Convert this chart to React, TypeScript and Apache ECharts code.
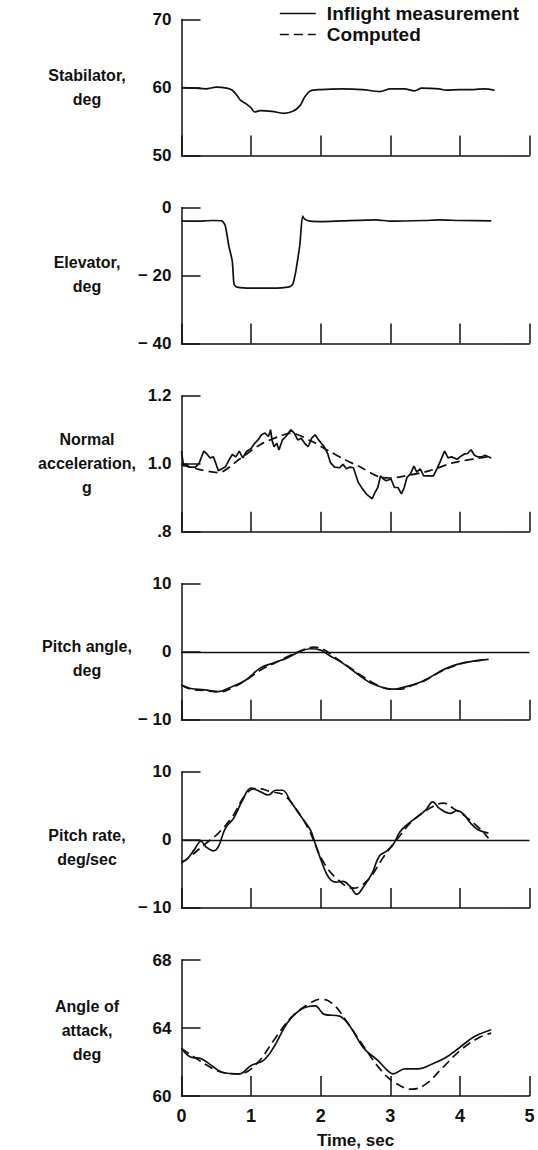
import React, { useEffect, useRef } from "react";
import * as echarts from "echarts";

// ---- data (time in s, value) ----
const stabilatorInflight = [
  [0, 60.0], [0.2, 59.9], [0.35, 59.8], [0.5, 60.05], [0.65, 59.9], [0.73, 59.6], [0.8, 58.8], [0.85, 58.1],
  [0.93, 57.6], [1.0, 57.0], [1.05, 56.4], [1.13, 56.6], [1.3, 56.5], [1.47, 56.2], [1.6, 56.5], [1.7, 57.3],
  [1.77, 58.6], [1.85, 59.5], [2.0, 59.7], [2.3, 59.8], [2.6, 59.7], [2.85, 59.4], [3.0, 59.8], [3.2, 59.8],
  [3.35, 59.5], [3.45, 59.9], [3.7, 59.8], [3.8, 59.6], [4.0, 59.7], [4.2, 59.7], [4.35, 59.8], [4.5, 59.6],
];

const elevatorInflight = [
  [0, -3.9], [0.2, -4.0], [0.45, -3.8], [0.58, -3.9], [0.63, -5.4], [0.68, -11.3], [0.73, -15.8], [0.755, -22.6],
  [0.8, -23.4], [1.0, -23.7], [1.3, -23.7], [1.55, -23.3], [1.6, -22.5], [1.64, -19.0], [1.67, -15.2], [1.7, -11.0],
  [1.74, -2.5], [1.77, -3.4], [1.85, -4.0], [2.0, -4.1], [2.3, -3.9], [2.8, -3.6], [3.0, -4.0], [3.5, -3.8],
  [3.7, -3.6], [4.0, -3.8], [4.45, -3.9],
];

const accelInflight = [
  [0, 1.037], [0.03, 0.993], [0.06, 1.0], [0.11, 0.99], [0.2, 0.99], [0.25, 1.0], [0.32, 1.037], [0.36, 1.03],
  [0.41, 1.017], [0.46, 1.02], [0.53, 0.979], [0.58, 0.985], [0.63, 0.99], [0.68, 1.01], [0.73, 1.027], [0.78, 1.02],
  [0.83, 1.037], [0.88, 1.017], [0.93, 1.035], [1.0, 1.045], [1.05, 1.06], [1.1, 1.07], [1.15, 1.085], [1.2, 1.09],
  [1.25, 1.08], [1.28, 1.1], [1.3, 1.07], [1.33, 1.05], [1.37, 1.06], [1.4, 1.04], [1.45, 1.07], [1.5, 1.08],
  [1.57, 1.1], [1.62, 1.09], [1.67, 1.07], [1.72, 1.075], [1.77, 1.06], [1.82, 1.05], [1.87, 1.075], [1.92, 1.085],
  [1.97, 1.07], [2.05, 1.05], [2.1, 1.03], [2.14, 1.003], [2.2, 0.99], [2.27, 0.988], [2.32, 0.998], [2.37, 0.985],
  [2.42, 0.99], [2.47, 0.988], [2.54, 0.945], [2.6, 0.926], [2.66, 0.91], [2.74, 0.897], [2.78, 0.915], [2.82, 0.93],
  [2.86, 0.964], [2.9, 0.955], [2.94, 0.95], [3.01, 0.955], [3.06, 0.93], [3.11, 0.93], [3.16, 0.911], [3.2, 0.93],
  [3.24, 0.96], [3.29, 0.97], [3.34, 0.993], [3.38, 0.975], [3.43, 0.985], [3.48, 0.964], [3.55, 0.964], [3.62, 0.964],
  [3.67, 0.985], [3.71, 1.003], [3.78, 1.037], [3.83, 1.017], [3.88, 1.02], [3.96, 1.013], [4.0, 1.02], [4.06, 1.028],
  [4.11, 1.03], [4.16, 1.041], [4.21, 1.025], [4.26, 1.02], [4.31, 1.02], [4.36, 1.025], [4.45, 1.017],
];
const accelComputed = [
  [0, 0.998], [0.23, 0.984], [0.53, 0.974], [0.83, 1.013], [1.13, 1.056], [1.4, 1.08], [1.57, 1.09], [1.87, 1.066],
  [2.12, 1.037], [2.35, 1.012], [2.57, 0.99], [2.86, 0.96], [3.0, 0.958], [3.16, 0.962], [3.56, 0.979], [3.91, 1.003],
  [4.3, 1.017], [4.45, 1.022],
];

const pitchAngleInflight = [
  [0, -4.9], [0.13, -5.4], [0.33, -5.6], [0.53, -5.85], [0.73, -5.1], [0.93, -4.1], [1.13, -2.4], [1.33, -1.6],
  [1.52, -0.9], [1.67, -0.1], [1.85, 0.45], [2.0, 0.25], [2.12, -0.5], [2.32, -1.7], [2.52, -3.2], [2.72, -4.6],
  [2.91, -5.3], [3.05, -5.5], [3.2, -5.2], [3.4, -4.6], [3.56, -3.8], [3.81, -2.4], [4.06, -1.6], [4.41, -1.1],
];
const pitchAngleComputed = [
  [0, -4.9], [0.13, -5.5], [0.33, -5.7], [0.55, -5.9], [0.75, -5.2], [0.95, -4.0], [1.15, -2.6], [1.35, -1.6],
  [1.55, -0.6], [1.75, 0.3], [1.9, 0.7], [2.05, 0.3], [2.2, -0.8], [2.4, -2.2], [2.6, -3.6], [2.8, -4.8],
  [3.0, -5.5], [3.15, -5.5], [3.3, -5.0], [3.5, -4.2], [3.75, -2.8], [4.0, -1.8], [4.25, -1.3], [4.41, -1.1],
];

const pitchRateInflight = [
  [0, -3.2], [0.07, -2.9], [0.18, -1.5], [0.28, -0.2], [0.35, -1.0], [0.46, -1.6], [0.53, -1.0], [0.63, 1.7],
  [0.75, 3.2], [0.88, 5.9], [1.0, 7.6], [1.13, 7.1], [1.25, 6.6], [1.35, 7.3], [1.45, 7.3], [1.57, 5.6],
  [1.72, 3.4], [1.85, 1.5], [1.92, -0.5], [2.02, -3.4], [2.12, -5.6], [2.22, -6.2], [2.32, -6.1], [2.42, -6.8],
  [2.52, -8.0], [2.62, -6.8], [2.74, -4.9], [2.84, -2.4], [2.94, -1.7], [3.04, -0.7], [3.14, 1.2], [3.26, 2.4],
  [3.39, 3.4], [3.51, 4.4], [3.61, 5.6], [3.71, 4.6], [3.86, 3.9], [3.96, 4.3], [4.06, 3.7], [4.16, 2.4],
  [4.26, 1.5], [4.41, 1.0],
];
const pitchRateComputed = [
  [0, -3.4], [0.13, -2.4], [0.35, -0.5], [0.53, 1.0], [0.73, 3.4], [0.93, 6.8], [1.08, 7.6], [1.28, 7.1],
  [1.47, 6.6], [1.62, 4.9], [1.82, 1.7], [2.02, -2.9], [2.22, -5.6], [2.47, -7.1], [2.57, -6.8], [2.72, -5.4],
  [2.91, -2.4], [3.11, 0.25], [3.31, 2.7], [3.56, 4.6], [3.76, 5.4], [3.91, 4.6], [4.11, 3.2], [4.3, 1.5],
  [4.41, 0.25],
];

const aoaInflight = [
  [0, 62.8], [0.13, 62.3], [0.28, 62.2], [0.43, 61.8], [0.58, 61.4], [0.83, 61.3], [1.0, 61.8], [1.18, 62.1],
  [1.33, 62.9], [1.52, 64.3], [1.72, 65.1], [1.92, 65.3], [2.05, 64.8], [2.27, 64.7], [2.42, 64.1], [2.62, 62.8],
  [2.82, 62.1], [2.96, 61.5], [3.04, 61.3], [3.21, 61.6], [3.41, 61.6], [3.61, 61.9], [3.81, 62.3], [4.01, 62.9],
  [4.21, 63.5], [4.45, 63.9],
];
const aoaComputed = [
  [0, 62.8], [0.33, 61.9], [0.58, 61.4], [0.83, 61.3], [1.08, 61.9], [1.33, 63.3], [1.57, 64.6], [1.82, 65.4],
  [2.01, 65.7], [2.18, 65.4], [2.37, 64.4], [2.62, 62.9], [2.87, 61.5], [3.06, 60.8], [3.31, 60.4], [3.51, 60.7],
  [3.76, 61.7], [4.01, 62.7], [4.26, 63.4], [4.45, 63.7],
];

// panel titles and y ranges
const panelTitles = [
  "Stabilator,\ndeg",
  "Elevator,\ndeg",
  "Normal\nacceleration,\ng",
  "Pitch angle,\ndeg",
  "Pitch rate,\ndeg/sec",
  "Angle of\nattack,\ndeg",
];
const yMins = [50, -40, 0.8, -10, -10, 60];
const yMaxs = [70, 0, 1.2, 10, 10, 68];
const yIntervals = [10, 20, 0.2, 10, 10, 4];
const timeMin = 0;
const timeMax = 5;
const timeInterval = 1;
const legendNames = ["Inflight measurement", "Computed"];

const FONT = "Liberation Sans, Arial, Helvetica, sans-serif";
const INK = "#111";

export default function App() {
  const ref = useRef<HTMLDivElement>(null);
  useEffect(() => {
    document.body.style.margin = "0";
    const chart = echarts.init(ref.current!, undefined, { renderer: "svg" });
    const tops = [19.5, 207.6, 395.7, 583.8, 771.9, 960];
    const H = 136;
    const titleY = [87, 274, 463, 658, 847, 1030];

    const grids = tops.map((t) => ({ left: 181.5, width: 348, top: t, height: H }));
    const xAxes = tops.map((_, i) => ({
      type: "value",
      gridIndex: i,
      min: timeMin,
      max: timeMax,
      interval: timeInterval,
      axisLine: { show: true, onZero: false, lineStyle: { color: INK, width: 1.5 } },
      axisTick: { show: true, inside: true, length: 20, lineStyle: { color: INK, width: 1.5 } },
      axisLabel: {
        show: i === 5,
        color: INK,
        fontFamily: FONT,
        fontWeight: "bold",
        fontSize: 18,
        margin: 11,
      },
      splitLine: { show: false },
      name: i === 5 ? "Time, sec" : "",
      nameLocation: "middle",
      nameGap: 36,
      nameTextStyle: { color: INK, fontFamily: FONT, fontWeight: "bold", fontSize: 17 },
    }));
    const yAxes = tops.map((_, i) => ({
      type: "value",
      gridIndex: i,
      min: yMins[i],
      max: yMaxs[i],
      interval: yIntervals[i],
      axisLine: { show: true, onZero: false, lineStyle: { color: INK, width: 1.5 } },
      axisTick: { show: true, inside: true, length: 19, lineStyle: { color: INK, width: 1.5 } },
      axisLabel: {
        color: INK,
        fontFamily: FONT,
        fontWeight: "bold",
        fontSize: 17,
        margin: 10,
        formatter: (v: number) => {
          if (i === 2) {
            const s = v.toFixed(1);
            return s.startsWith("0") ? s.slice(1) : s;
          }
          if (v < 0) return "\u2212 " + Math.abs(v);
          return String(v);
        },
      },
      splitLine: { show: false },
    }));

    const lineBase = {
      type: "line",
      showSymbol: false,
      symbol: "none",
      animation: false,
      silent: true,
      z: 3,
    };
    const solid = { color: INK, width: 1.7, type: "solid" };
    const dashed = { color: INK, width: 1.7, type: [9, 5] };
    const zeroLine = {
      silent: true,
      symbol: ["none", "none"],
      label: { show: false },
      lineStyle: { color: INK, type: "solid", width: 1.4 },
      data: [{ yAxis: 0 }],
    };

    const series: any[] = [
      { ...lineBase, name: legendNames[0], xAxisIndex: 0, yAxisIndex: 0, data: stabilatorInflight, smooth: 0.3, lineStyle: solid, itemStyle: { color: INK } },
      { ...lineBase, name: legendNames[0], xAxisIndex: 1, yAxisIndex: 1, data: elevatorInflight, smooth: 0.2, lineStyle: solid, itemStyle: { color: INK } },
      { ...lineBase, name: legendNames[1], xAxisIndex: 2, yAxisIndex: 2, data: accelComputed, smooth: 0.3, lineStyle: dashed, itemStyle: { color: INK } },
      { ...lineBase, name: legendNames[0], xAxisIndex: 2, yAxisIndex: 2, data: accelInflight, lineStyle: solid, itemStyle: { color: INK } },
      { ...lineBase, name: legendNames[1], xAxisIndex: 3, yAxisIndex: 3, data: pitchAngleComputed, smooth: 0.4, lineStyle: dashed, itemStyle: { color: INK } },
      { ...lineBase, name: legendNames[0], xAxisIndex: 3, yAxisIndex: 3, data: pitchAngleInflight, smooth: 0.4, lineStyle: solid, itemStyle: { color: INK }, markLine: zeroLine },
      { ...lineBase, name: legendNames[1], xAxisIndex: 4, yAxisIndex: 4, data: pitchRateComputed, smooth: 0.4, lineStyle: dashed, itemStyle: { color: INK } },
      { ...lineBase, name: legendNames[0], xAxisIndex: 4, yAxisIndex: 4, data: pitchRateInflight, smooth: 0.4, lineStyle: solid, itemStyle: { color: INK }, markLine: zeroLine },
      { ...lineBase, name: legendNames[1], xAxisIndex: 5, yAxisIndex: 5, data: aoaComputed, smooth: 0.4, lineStyle: dashed, itemStyle: { color: INK } },
      { ...lineBase, name: legendNames[0], xAxisIndex: 5, yAxisIndex: 5, data: aoaInflight, smooth: 0.4, lineStyle: solid, itemStyle: { color: INK } },
    ];

    const graphic = panelTitles.map((t, i) => ({
      type: "text",
      x: 87,
      y: titleY[i],
      silent: true,
      style: {
        text: t,
        fill: INK,
        font: `bold 16px ${FONT}`,
        align: "center",
        verticalAlign: "middle",
        lineHeight: 24,
      },
    }));

    chart.setOption({
      animation: false,
      backgroundColor: "#fff",
      grid: grids,
      xAxis: xAxes,
      yAxis: yAxes,
      series,
      graphic,
      legend: {
        data: legendNames,
        orient: "vertical",
        left: 279,
        top: 4,
        padding: 0,
        itemWidth: 36,
        itemHeight: 14,
        itemGap: 2,
        selectedMode: false,
        itemStyle: { opacity: 0, color: "transparent", borderColor: "transparent", borderWidth: 0 },
        lineStyle: { width: 1.7, color: INK },
        textStyle: { color: INK, fontFamily: FONT, fontWeight: "bold", fontSize: 19, lineHeight: 18, padding: [0, 0, 0, 6] },
      },
    });
    return () => chart.dispose();
  }, []);
  return (
    <div
      ref={ref}
      style={{ position: "fixed", left: 0, top: 0, width: 538, height: 1150, background: "#fff" }}
    />
  );
}
